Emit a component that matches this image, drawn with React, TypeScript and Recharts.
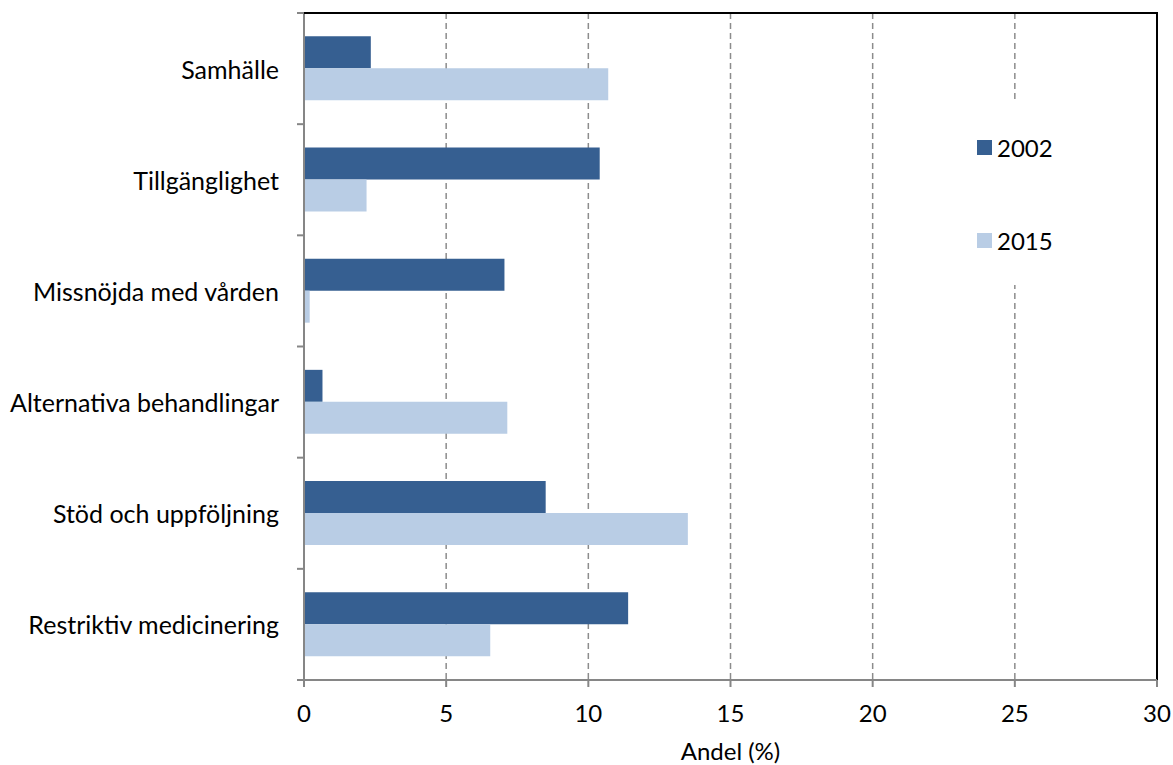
import React from "react"
import {
    BarChart,
    Bar,
    XAxis,
    YAxis,
    CartesianGrid,
    Legend,
    ReferenceLine,
} from "recharts"

const categories = [
    "Samhälle",
    "Tillgänglighet",
    "Missnöjda med vården",
    "Alternativa behandlingar",
    "Stöd och uppföljning",
    "Restriktiv medicinering",
]
const values2002 = [2.35, 10.4, 7.05, 0.65, 8.5, 11.4]
const values2015 = [10.7, 2.2, 0.2, 7.15, 13.5, 6.55]
const xTicks = [0, 5, 10, 15, 20, 25, 30]
const seriesNames = ["2002", "2015"]

const COLORS = ["#365F91", "#B9CDE5"]
const AXIS_GRAY = "#868686"
const FONT = "Lato, 'Open Sans', sans-serif"
const PLOT_WIDTH = 853

const data = categories.map((name, i) => ({
    name,
    y2002: values2002[i],
    y2015: values2015[i],
}))

// excel style: tick marks sit on the category boundaries, not the centers.
// the first tick also draws the black top edge of the plot frame
const CategoryTick = (props: any) => {
    const { x, y, payload, index, visibleTicksCount } = props
    const axisX = x + 25
    const half = payload?.offset || 667 / categories.length / 2
    return (
        <g>
            {index === 0 && (
                <path
                    d={`M${axisX},${y - half}H${axisX + PLOT_WIDTH + 1}`}
                    stroke="#000000"
                    strokeWidth={2}
                    fill="none"
                />
            )}
            <line x1={axisX - 7} x2={axisX} y1={y - half} y2={y - half} stroke={AXIS_GRAY} strokeWidth={2} />
            {index === visibleTicksCount - 1 && (
                <line x1={axisX - 7} x2={axisX} y1={y + half} y2={y + half} stroke={AXIS_GRAY} strokeWidth={2} />
            )}
            <text
                x={x}
                y={y}
                textAnchor="end"
                dominantBaseline="central"
                fontSize={25}
                fontFamily={FONT}
                fill="#000"
            >
                {payload.value}
            </text>
        </g>
    )
}

const renderLegend = () => (
    <div
        style={{
            width: 95,
            height: 185,
            background: "#fff",
            position: "relative",
            fontFamily: FONT,
            fontSize: 24,
        }}
    >
        {seriesNames.map((name, idx) => (
            <div
                key={name}
                style={{
                    position: "absolute",
                    left: 12,
                    top: 33 + idx * 93,
                    display: "flex",
                    alignItems: "center",
                    height: 28,
                }}
            >
                <div style={{ width: 15, height: 15, background: COLORS[idx], marginRight: 5 }} />
                <span>{name}</span>
            </div>
        ))}
    </div>
)

export default function App() {
    return (
        <div style={{ position: "absolute", left: 0, top: 0, width: 1173, height: 765, background: "#fff" }}>
            <BarChart
                width={1173}
                height={765}
                data={data}
                layout="vertical"
                margin={{ top: 13, right: 16, bottom: 0, left: 0 }}
                barCategoryGap="21%"
                barGap={0}
            >
                <CartesianGrid
                    horizontal={false}
                    stroke="#8c8c8c"
                    strokeWidth={1.5}
                    strokeDasharray="6 4"
                    verticalValues={[5, 10, 15, 20, 25]}
                />
                <XAxis
                    type="number"
                    domain={[0, 30]}
                    ticks={xTicks}
                    interval={0}
                    height={85}
                    tickSize={7}
                    tickMargin={18}
                    axisLine={{ stroke: AXIS_GRAY, strokeWidth: 2 }}
                    tickLine={{ stroke: AXIS_GRAY, strokeWidth: 2 }}
                    tick={{ fontSize: 24, fontFamily: FONT, fill: "#000" }}
                    label={{
                        value: "Andel (%)",
                        position: "insideBottom",
                        offset: 5,
                        fontSize: 24,
                        fontFamily: FONT,
                        fill: "#000",
                    }}
                />
                <YAxis
                    type="category"
                    dataKey="name"
                    width={304}
                    tickSize={7}
                    tickMargin={18}
                    tickLine={false}
                    interval={0}
                    axisLine={{ stroke: AXIS_GRAY, strokeWidth: 2 }}
                    tick={<CategoryTick />}
                />
                {/* right edge of the frame */}
                <ReferenceLine x={30} stroke="#000" strokeWidth={2} />
                <Legend
                    layout="vertical"
                    align="center"
                    verticalAlign="middle"
                    content={renderLegend}
                    wrapperStyle={{ left: 965, top: 100, width: 95, height: 185 }}
                />
                <Bar dataKey="y2002" name="2002" fill={COLORS[0]} isAnimationActive={false} />
                <Bar dataKey="y2015" name="2015" fill={COLORS[1]} isAnimationActive={false} />
            </BarChart>
        </div>
    )
}
